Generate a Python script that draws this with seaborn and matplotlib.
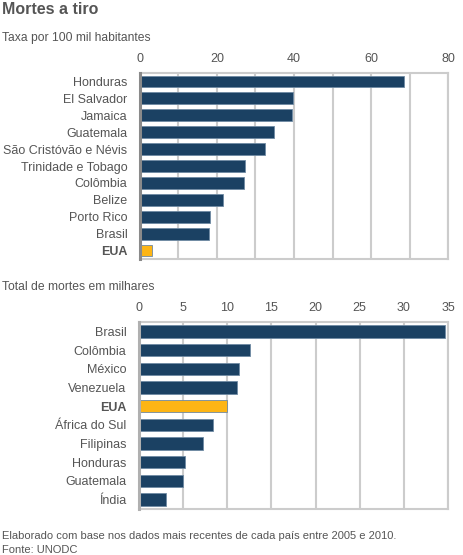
import matplotlib.pyplot as plt
import seaborn as sns
import pandas as pd
from matplotlib.ticker import MultipleLocator

# Taxa por 100 mil habitantes
rate_countries = ["Honduras", "El Salvador", "Jamaica", "Guatemala",
                  "São Cristóvão e Névis", "Trinidade e Tobago", "Colômbia",
                  "Belize", "Porto Rico", "Brasil", "EUA"]
rate_values = [68.5, 39.8, 39.4, 34.8, 32.4, 27.3, 27.0, 21.6, 18.2, 18.0, 3.0]

# Total de mortes em milhares
total_countries = ["Brasil", "Colômbia", "México", "Venezuela", "EUA",
                   "África do Sul", "Filipinas", "Honduras", "Guatemala", "Índia"]
total_values = [34.7, 12.55, 11.3, 11.15, 10.0, 8.35, 7.3, 5.2, 5.0, 3.1]

NAVY = "#1b4163"
ORANGE = "#fdb515"
TEXT = "#555555"
GRID = "#cccccc"

sns.set_style("white")
plt.rcParams["font.family"] = ["Liberation Sans", "DejaVu Sans"]

W, H = 464, 555
fig = plt.figure(figsize=(W / 100, H / 100), dpi=100)


def px_axes(left, top, right, bottom):
    return fig.add_axes([left / W, (H - bottom) / H, (right - left) / W, (bottom - top) / H])


def draw_panel(ax, countries, values, xmax, major, minor, width, spine_color):
    df = pd.DataFrame({"pais": countries, "valor": values})
    colors = [ORANGE if c == "EUA" else NAVY for c in countries]
    sns.barplot(data=df, x="valor", y="pais", hue="pais", palette=colors,
                legend=False, width=width, edgecolor="#6f8aa3", linewidth=0.6,
                saturation=1, ax=ax, zorder=3)
    ax.set_xlim(0, xmax)
    ax.set_ylim(len(countries) - 0.5, -0.5)
    ax.xaxis.set_major_locator(MultipleLocator(major))
    ax.xaxis.set_minor_locator(MultipleLocator(minor))
    ax.grid(axis="x", which="both", color=GRID, linewidth=1.5, zorder=0)
    ax.set_axisbelow(True)
    ax.xaxis.tick_top()
    ax.tick_params(axis="x", which="both", length=0, pad=6, labelsize=9, labelcolor=TEXT)
    ax.tick_params(axis="y", length=0, pad=9, labelsize=9.0, labelcolor=TEXT)
    ax.set_xlabel("")
    ax.set_ylabel("")
    for name, sp in ax.spines.items():
        sp.set_color(GRID)
        sp.set_linewidth(1.5)
    ax.spines["left"].set_color(spine_color)
    ax.spines["left"].set_linewidth(2.2)
    ax.spines["left"].set_zorder(4)
    for lbl in ax.get_yticklabels():
        if lbl.get_text() == "EUA":
            lbl.set_fontweight("bold")


ax1 = px_axes(140, 73, 448, 259)
draw_panel(ax1, rate_countries, rate_values, 80, 20, 10, 0.7, "#8a8a8a")

ax2 = px_axes(139, 322, 448, 509)
draw_panel(ax2, total_countries, total_values, 35, 5, 5, 0.66, "#b0b0b0")

fig.text(2 / W, 1 - 2 / H, "Mortes a tiro", fontsize=11.5, fontweight="bold",
         color=TEXT, va="top", ha="left")
fig.text(2 / W, 1 - 38 / H, "Taxa por 100 mil habitantes", fontsize=8.7,
         color=TEXT, va="center", ha="left")
fig.text(2 / W, 1 - 287 / H, "Total de mortes em milhares", fontsize=8.7,
         color=TEXT, va="center", ha="left")
fig.text(2 / W, 1 - 536 / H,
         "Elaborado com base nos dados mais recentes de cada país entre 2005 e 2010.",
         fontsize=8.0, color=TEXT, va="center", ha="left")
fig.text(2 / W, 1 - 550 / H, "Fonte: UNODC", fontsize=8.0, color=TEXT,
         va="center", ha="left")

fig.savefig("out.png", dpi=100, facecolor="white")
